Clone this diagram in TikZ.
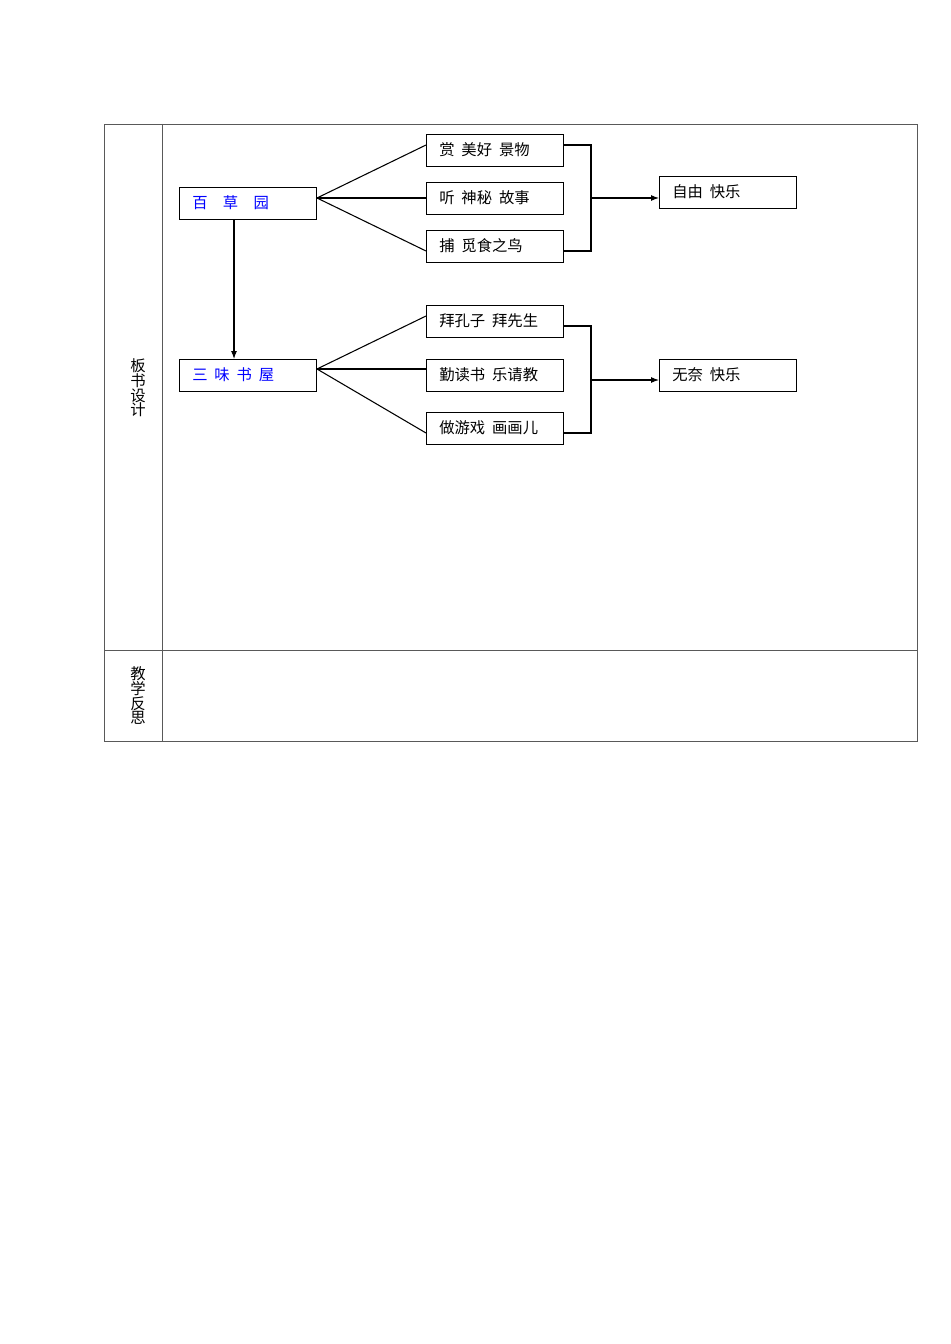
\documentclass[tikz,border=0pt]{standalone}
\usepackage{fontspec}
\newfontfamily\cjk{Noto Sans CJK SC}
\usetikzlibrary{arrows.meta}
\begin{document}
\begin{tikzpicture}[x=0.75pt,y=-0.75pt,font=\cjk\fontsize{11.5}{13}\selectfont,
  bx/.style={draw,thick,minimum width=103pt,minimum height=24pt,inner sep=0pt,anchor=north west},
  tx/.style={anchor=west,inner sep=0pt},
  ln/.style={thick},
  arr/.style={thick,-{Latex[length=6pt]}}]
\useasboundingbox (0,0) rectangle (950,1344);
\draw[gray!70!black] (104,124) rectangle (917,741);
\draw[gray!70!black] (162,124) -- (162,741);
\draw[gray!70!black] (104,650) -- (917,650);
\node[align=center,inner sep=0pt] (l1) at (138,388) {板\\[-2pt]书\\[-2pt]设\\[-2pt]计};
\node[align=center,inner sep=0pt] (l2) at (138,696) {教\\[-2pt]学\\[-2pt]反\\[-2pt]思};
% left boxes
\node[bx] (a) at (179,187) {};
\node[tx,text=blue] at (192,203) {百\quad 草\quad 园};
\node[bx] (b) at (179,359) {};
\node[tx,text=blue] at (192,375) {三\ \ 味\ \ 书\ \ 屋};
\draw[arr] (a.south -| 234,0) -- (b.north -| 234,0);
% middle boxes
\foreach \n/\y/\t in {m1/134/{赏\ \ 美好\ \ 景物},m2/182/{听\ \ 神秘\ \ 故事},m3/230/{捕\ \ 觅食之鸟},
  n1/305/{拜孔子\ \ 拜先生},n2/359/{勤读书\ \ 乐请教},n3/412/{做游戏\ \ 画画儿}}{
  \node[bx] (\n) at (426,\y) {};
  \node[tx] at (439,\y+16) {\t};
}
\node[bx] (r1) at (659,176) {};
\node[tx] at (672,192) {自由\ \ 快乐};
\node[bx] (r2) at (659,359) {};
\node[tx] at (672,375) {无奈\ \ 快乐};
\coordinate (ao) at (317,198);
\coordinate (bo) at (317,369);
\draw[ln] (ao) -- (m1.west |- 0,145);
\draw[ln] (ao) -- (m2.west |- 0,198);
\draw[ln] (ao) -- (m3.west |- 0,251);
\draw[ln] (bo) -- (n1.west |- 0,316);
\draw[ln] (bo) -- (n2.west |- 0,369);
\draw[ln] (bo) -- (n3.west |- 0,433);
\coordinate (j1) at (591,198);
\coordinate (j2) at (591,380);
\draw[ln] (m1.east |- 0,145) -| (591,251) -- (m3.east |- 0,251);
\draw[ln] (n1.east |- 0,326) -| (591,433) -- (n3.east |- 0,433);
\draw[arr] (j1) -- (r1.west |- j1);
\draw[arr] (j2) -- (r2.west |- j2);
\end{tikzpicture}
\end{document}
